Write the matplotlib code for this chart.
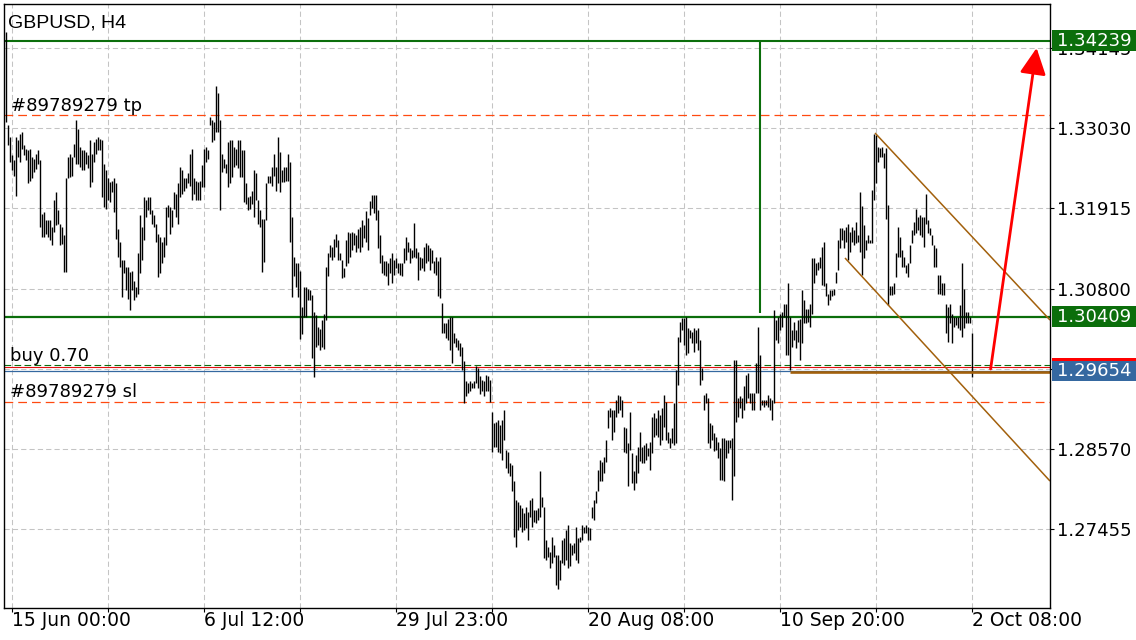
import matplotlib
matplotlib.use("Agg")
import matplotlib.pyplot as plt
import matplotlib.transforms as mtransforms
from matplotlib.patches import Rectangle, FancyArrowPatch

# ---------------- data (prices in 1e-4 units, H4 bars, left -> right) ----------------
symbol_title = "GBPUSD, H4"

high_pips = [
    13436,13307,13291,13265,13258,13291,13286,13295,13297,13279,13274,13272,13274,13263,13260,13267,13272,13258,13184,13186,
    13175,13175,13175,13166,13203,13214,13189,13170,13166,13154,13233,13263,13267,13263,13281,13314,13302,13277,13272,13272,
    13270,13265,13286,13267,13284,13288,13291,13288,13286,13253,13244,13233,13228,13230,13233,13226,13163,13145,13119,13119,
    13110,13110,13103,13105,13091,13082,13129,13182,13166,13207,13203,13207,13207,13189,13182,13170,13156,13152,13145,13152,
    13193,13196,13193,13189,13214,13212,13226,
    13249,13244,13233,13233,13240,13267,13274,13233,13230,13228,13230,13251,13274,13277,13272,13318,13314,13311,13362,13351,
    13314,13267,13260,13253,13284,13286,13286,13277,13274,13286,13286,13272,13272,13226,13207,13209,13216,13244,13240,13203,
    13189,13177,13177,13226,13237,13237,13249,13267,13249,13291,13270,13244,13249,13249,13267,13256,13179,13124,13115,13115,
    13105,13054,13082,13082,13080,13078,13071,13047,13043,13027,13024,13036,13045,13110,13129,13140,13138,13149,13156,13147,
    13129,13119,13108,
    13148,13159,13157,13159,13157,13155,13162,13166,13175,13168,13187,13178,13201,13210,13210,13210,13189,13155,13127,13118,
    13118,13115,13122,13129,13120,13122,13115,13115,13115,13136,13152,13145,13136,13134,13171,13136,13131,13124,13122,13138,
    13143,13141,13136,13134,13118,13124,13118,13124,13060,13032,13032,13037,13041,13041,13018,13011,13009,13004,12999,12979,
    12951,12949,12951,12949,12951,12972,12969,
    12958,12953,12951,12960,12958,12953,12909,12893,12895,12897,12890,12897,12911,12856,12853,12837,12835,12812,12786,12784,
    12779,12775,12768,12777,12770,12786,12789,12772,12772,12775,12826,12791,12777,12731,12721,12714,12735,12724,12710,12710,
    12703,12731,12733,12745,12751,12726,12724,12726,12749,12733,12735,12751,12749,12751,12749,12747,12777,12786,12798,12828,
    12842,12839,12846,12870,12911,12914,12911,12911,12925,12932,12930,12925,12888,12886,12865,12909,
    12851,12826,12849,12860,12881,12860,12863,12865,12858,12867,12902,12907,12900,12911,12904,12914,12932,12923,12881,12872,
    12886,12921,12967,13013,13034,13039,13039,13041,13025,13022,13020,13025,13022,13025,13009,12969,12932,12935,12928,12893,
    12891,12879,12874,12867,12858,12872,12872,12870,12870,12870,12872,12981,12981,12928,12930,12928,12944,12960,12962,12935,
    12935,12935,12976,13027,12988,12925,12925,12925,12932,12928,12925,13050,13036,13041,
    13045,13048,13059,13059,13087,13041,13022,13034,13022,13036,13038,13078,13064,13052,13052,13059,13122,13122,13115,13117,
    13124,13138,13145,13087,13073,13078,13078,13080,13103,13147,13164,13164,13161,13166,13170,13159,13166,13161,13173,13154,
    13214,13194,13168,13147,13154,13147,13217,13295,13293,13277,13275,13277,13268,13275,13196,13083,13083,13087,13129,13166,
    13152,13133,13124,13113,13115,13140,13161,13173,13191,13180,13182,13180,13180,13212,13175,13164,13154,13140,13136,13099,
    13099,13087,13087,13059,13055,13059,13045,13041,13041,13041,13057,13115,13080,13048,13048,13041,13018,
]

low_pips = [
    13311,13279,13256,13244,13237,13209,13263,13256,13274,13265,13258,13226,13230,13233,13242,13246,13253,13166,13152,13152,
    13156,13152,13147,13140,13159,13168,13170,13140,13142,13103,13103,13233,13235,13237,13263,13253,13253,13249,13244,13244,
    13253,13247,13221,13228,13256,13267,13272,13272,13207,13193,13191,13203,13200,13214,13186,13149,13124,13110,13068,13101,
    13078,13066,13050,13078,13064,13068,13073,13101,13119,13147,13179,13189,13184,13170,13166,13145,13096,13101,13115,13124,
    13140,13179,13156,13166,13191,13179,13170,
    13207,13212,13216,13219,13226,13223,13203,13212,13203,13203,13203,13221,13221,13256,13260,13307,13284,13286,13297,13297,
    13189,13242,13247,13240,13221,13226,13235,13249,13251,13247,13235,13235,13200,13198,13189,13191,13198,13179,13203,13170,
    13166,13103,13117,13175,13226,13226,13223,13237,13216,13226,13214,13228,13228,13230,13230,13145,13068,13098,13082,13068,
    13010,13017,13040,13040,13064,13064,12983,12957,12999,13001,12994,12999,12996,13036,13098,13124,13119,13124,13138,13119,
    13119,13094,13096,
    13111,13115,13124,13134,13141,13131,13136,13131,13138,13150,13145,13134,13182,13192,13185,13175,13136,13115,13101,13099,
    13097,13085,13101,13087,13099,13108,13101,13099,13097,13115,13120,13131,13115,13122,13124,13122,13092,13106,13108,13104,
    13115,13118,13106,13115,13101,13099,13069,13067,13018,13018,13011,13009,12995,12976,13004,12999,12995,12986,12967,12921,
    12930,12935,12937,12942,12942,12949,12942,
    12934,12937,12930,12937,12937,12923,12853,12860,12860,12853,12851,12842,12870,12830,12823,12819,12798,12735,12721,12745,
    12749,12742,12745,12747,12731,12763,12749,12756,12754,12758,12763,12777,12705,12703,12707,12691,12698,12707,12668,12663,
    12675,12698,12696,12703,12691,12694,12710,12712,12703,12698,12728,12731,12740,12740,12731,12731,12761,12758,12782,12798,
    12812,12812,12823,12839,12886,12902,12870,12881,12902,12907,12911,12902,12853,12851,12805,12856,
    12810,12800,12810,12823,12840,12837,12837,12842,12847,12828,12851,12874,12877,12874,12863,12870,12888,12870,12865,12858,
    12865,12863,12865,12946,13006,13023,13002,12988,12990,13011,13004,12992,13004,12995,12946,12953,12911,12921,12865,12858,
    12870,12854,12856,12844,12814,12814,12812,12844,12851,12858,12786,12819,12895,12902,12914,12900,12911,12921,12928,12921,
    12911,12911,12935,12935,12911,12918,12916,12918,12916,12911,12897,12921,13009,13004,
    13022,13027,13041,12988,12988,12967,12999,13008,12997,13006,12981,13004,13032,13032,13034,13027,13045,13087,13099,13106,
    13108,13085,13083,13069,13057,13064,13069,13071,13087,13106,13136,13147,13136,13145,13120,13131,13145,13140,13143,13145,
    13131,13099,13122,13133,13143,13143,13143,13203,13226,13256,13263,13263,13247,13177,13057,13071,13071,13073,13096,13124,
    13124,13110,13110,13101,13096,13115,13143,13154,13157,13161,13154,13152,13138,13170,13157,13154,13140,13110,13110,13073,
    13073,13071,13071,13018,13006,13032,13004,13027,13029,13025,13022,13013,13025,13032,13032,13032,12957,
]

time_labels = ["15 Jun 00:00", "6 Jul 12:00", "29 Jul 23:00", "20 Aug 08:00", "10 Sep 20:00", "2 Oct 08:00"]
price_ticks = [1.34145, 1.33030, 1.31915, 1.30800, 1.29685, 1.28570, 1.27455]

level_top = 1.34239        # green horizontal (target)
level_mid = 1.30409        # green horizontal
bid_price = 1.29654
ask_price = 1.29714
open_price = 1.29737       # buy 0.70
tp_price = 1.33211
sl_price = 1.29223
support_price = 1.29640    # brown horizontal
order_id = "#89789279"

# drawn objects (bar index, price)
vline_green = (377, 1.30460, level_top)
upper_channel = ((434.5, 1.32961), (522.0, 1.30362))
lower_channel = ((419.5, 1.31224), (522.0, 1.28125))
support_start = 392
arrow_start = (492.3, 1.29681)
arrow_tip = (515.3, 1.34142)

# ---------------- figure ----------------
W, H = 1136, 640
fig = plt.figure(figsize=(W / 100, H / 100), dpi=100)
ax = fig.add_axes([4 / W, 1 - 608 / H, 1046 / W, 604 / H])

n = min(len(high_pips), len(low_pips))
xs = list(range(n))
highs = [v / 10000 for v in high_pips[:n]]
lows = [v / 10000 for v in low_pips[:n]]

ax.set_xlim(-1, 522)
ax.set_ylim(1.26361, 1.34753)

grid_c = "#c4c4c4"
green = "#0b6e0b"
brown = "#a2600c"
orange_red = "#ff4a10"
blue = "#3568a0"

# grid
grid_pos = [3 + 48 * k for k in range(11)]
for gx in grid_pos:
    ax.axvline(gx, color=grid_c, lw=0.75, ls=(0, (5, 3)), zorder=0.5)
for p in price_ticks:
    ax.axhline(p, color=grid_c, lw=0.75, ls=(0, (5, 3)), zorder=0.5)

# order / level lines
ax.axhline(tp_price, color=orange_red, lw=0.9, ls=(0, (7, 4)), zorder=1)
ax.axhline(sl_price, color=orange_red, lw=0.9, ls=(0, (7, 4)), zorder=1)
ax.axhline(open_price, color=green, lw=0.8, ls=(0, (6, 3)), zorder=1)
ax.axhline(ask_price, color="#e01010", lw=0.8, zorder=1)
ax.axhline(bid_price, color=blue, lw=0.9, zorder=1)
ax.axhline(level_top, color=green, lw=1.5, zorder=1.2)
ax.axhline(level_mid, color=green, lw=1.6, zorder=1.2)
ax.vlines(vline_green[0], vline_green[1], vline_green[2], color=green, lw=1.5, zorder=1.2)

# bars
ax.vlines(xs, lows, highs, colors="black", lw=1.0, antialiased=True, zorder=2)

# trend objects
ax.plot([upper_channel[0][0], upper_channel[1][0]], [upper_channel[0][1], upper_channel[1][1]],
        color=brown, lw=1.1, zorder=2.2, solid_capstyle="butt")
ax.plot([lower_channel[0][0], lower_channel[1][0]], [lower_channel[0][1], lower_channel[1][1]],
        color=brown, lw=1.1, zorder=2.2, solid_capstyle="butt")
ax.hlines(support_price, support_start, 522, color=brown, lw=1.9, zorder=2.2)

arrow = FancyArrowPatch(arrow_start, arrow_tip, arrowstyle="-|>,head_length=0.8,head_width=0.4",
                        mutation_scale=20, color="#ff0000", lw=2.0, shrinkA=0, shrinkB=0, zorder=3)
ax.add_patch(arrow)

# axes frame & ticks
for s in ax.spines.values():
    s.set_color("black")
    s.set_linewidth(1.0)
ax.yaxis.tick_right()
ax.set_yticks(price_ticks)
ax.set_yticklabels([f"{p:.5f}" for p in price_ticks], fontsize=13)
ax.tick_params(axis="y", which="both", length=3, width=0.8, pad=2, colors="black")
ax.set_xticks(grid_pos)
ax.set_xticklabels([""] * len(grid_pos))
ax.tick_params(axis="x", length=3, width=0.8, colors="black")

blend_x = mtransforms.blended_transform_factory(ax.transData, ax.transAxes)
for k, lab in enumerate(time_labels):
    ax.text(grid_pos[2 * k], -18 / 604, lab, transform=blend_x, ha="left", va="baseline",
            fontsize=13.5, clip_on=False)

# price boxes on the right scale
blend_y = mtransforms.blended_transform_factory(ax.transAxes, ax.transData)
box_h = 21 * (1.34753 - 1.26361) / 604
bx0 = (1052 - 4) / 1046
bw = (1136 - 1052) / 1046 + 0.01


def price_box(price, face, zo=5):
    ax.add_patch(Rectangle((bx0, price - box_h / 2), bw, box_h, transform=blend_y,
                           facecolor=face, edgecolor="none", clip_on=False, zorder=zo))
    ax.text((1057 - 4) / 1046, price, f"{price:.5f}", transform=blend_y, color="white",
            fontsize=13, va="center", ha="left", clip_on=False, zorder=zo + 0.1)


price_box(level_top, green)
price_box(level_mid, green)
price_box(bid_price, blue)
ax.add_patch(Rectangle((bx0, ask_price + 0.00082), bw, 3 * (1.34753 - 1.26361) / 604,
                       transform=blend_y, facecolor="#ff0000", edgecolor="none",
                       clip_on=False, zorder=5))

# chart texts


def fxy(px, py):
    return px / W, 1 - py / H


fig.text(*fxy(8, 27), symbol_title, fontsize=14, family="Liberation Sans", va="baseline")
fig.text(*fxy(11, 111), f"{order_id} tp", fontsize=13, va="baseline")
fig.text(*fxy(10, 361), "buy 0.70", fontsize=13, va="baseline")
fig.text(*fxy(10, 397), f"{order_id} sl", fontsize=13, va="baseline")

fig.savefig("out.png", dpi=100)
